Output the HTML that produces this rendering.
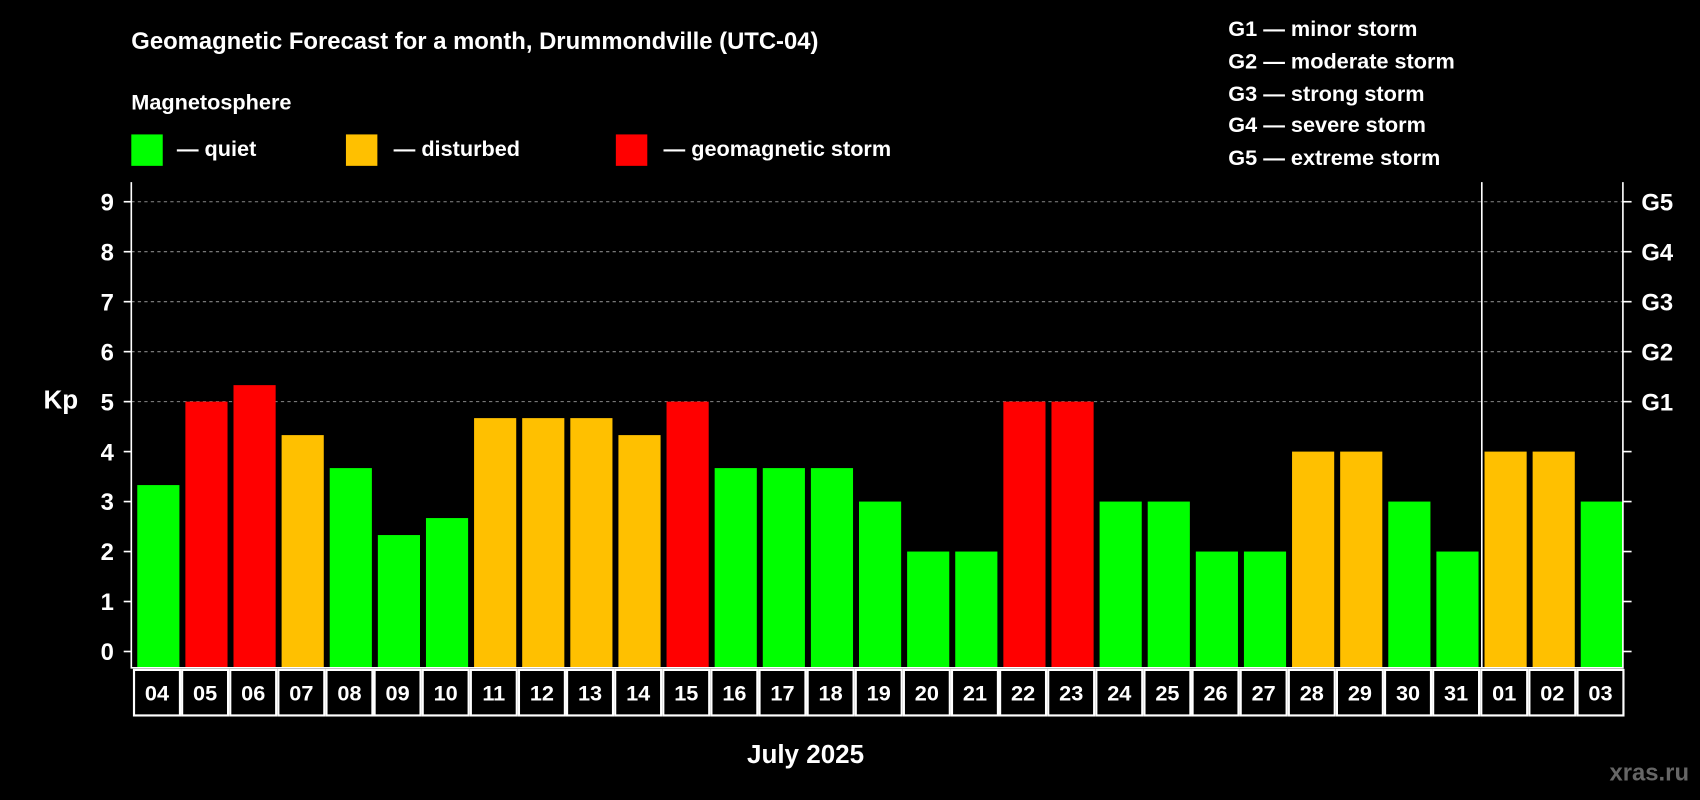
<!DOCTYPE html>
<html><head><meta charset="utf-8"><style>
html,body{margin:0;padding:0;background:#000;width:1700px;height:800px;overflow:hidden}
svg{display:block;font-family:"Liberation Sans",Arial,sans-serif;font-weight:bold}
</style></head><body>
<svg id="chart" width="1700" height="800" viewBox="0 0 1568 738" xmlns="http://www.w3.org/2000/svg">
<rect x="0" y="0" width="1568" height="738" fill="#000"/>
<text x="121" y="45" fill="#fff" font-size="22">Geomagnetic Forecast for a month, Drummondville (UTC-04)</text>
<text x="121" y="101" fill="#fff" font-size="20">Magnetosphere</text>
<g><rect x="121" y="124" width="29" height="29" fill="#00ff00"/><text x="163" y="144" fill="#fff" font-size="20">— quiet</text></g>
<g><rect x="319" y="124" width="29" height="29" fill="#ffc000"/><text x="363" y="144" fill="#fff" font-size="20">— disturbed</text></g>
<g><rect x="568" y="124" width="29" height="29" fill="#ff0000"/><text x="612" y="144" fill="#fff" font-size="20">— geomagnetic storm</text></g>
<g fill="#fff" font-size="20">
<text x="1133" y="33">G1 — minor storm</text>
<text x="1133" y="63">G2 — moderate storm</text>
<text x="1133" y="93">G3 — strong storm</text>
<text x="1133" y="122">G4 — severe storm</text>
<text x="1133" y="152">G5 — extreme storm</text>
</g>
<text x="40" y="377" fill="#fff" font-size="24">Kp</text>
<text x="743" y="704" fill="#fff" font-size="24" text-anchor="middle">July 2025</text>
<text x="1558" y="720" fill="#666" font-size="22" text-anchor="end">xras.ru</text>
<g id="grid"></g><g id="bars"></g><g id="axes"></g><g id="xlabels"></g>
</svg>
<script>
const days = ["04","05","06","07","08","09","10","11","12","13","14","15","16","17","18","19","20","21","22","23","24","25","26","27","28","29","30","31","01","02","03"];
const kpValues = [3.33,5,5.33,4.33,3.67,2.33,2.67,4.67,4.67,4.67,4.33,5,3.67,3.67,3.67,3,2,2,5,5,3,3,2,2,4,4,3,2,4,4,3];
const yTicks = [0,1,2,3,4,5,6,7,8,9];
const gLabels = ["","","","","","G1","G2","G3","G4","G5"];
const monthBreakIndex = 28;
const NS="http://www.w3.org/2000/svg";
const L=121,R=1497,T=168,B=616;
function y(v){return 601-v*46.1;}
const slot=(R-L)/days.length;
function x(i){return L+i*slot;}
function mk(tag,attrs,parent,text){const e=document.createElementNS(NS,tag);for(const k in attrs)e.setAttribute(k,attrs[k]);if(text!==undefined)e.textContent=text;parent.appendChild(e);return e;}
const grid=document.getElementById('grid'),bars=document.getElementById('bars'),axes=document.getElementById('axes'),xl=document.getElementById('xlabels');
yTicks.forEach((t,i)=>{
  if(t>=5){const g=mk('line',{x1:L,x2:R,y1:y(t),y2:y(t),stroke:'#888','stroke-dasharray':'3,3','stroke-width':1},grid);
  
  }
  const tk=mk('line',{x1:L-7,x2:L,y1:y(t),y2:y(t),stroke:'#fff','stroke-width':1.5},axes);
  
  
  const tr=mk('line',{x1:R,x2:R+8,y1:y(t),y2:y(t),stroke:'#fff','stroke-width':1.5},axes);
  
  
  const lb=mk('text',{x:105,y:y(t)+8,fill:'#fff','font-size':22,'text-anchor':'end'},axes,String(t));
  
  
  if(gLabels[i]){const gl=mk('text',{x:R+17,y:y(t)+8,fill:'#fff','font-size':22},axes,gLabels[i]);
  
  }
});
kpValues.forEach((v,i)=>{
  const c=v>=5?'#ff0000':(v>=4?'#ffc000':'#00ff00');
  const b=mk('rect',{x:x(i)+5.5,y:y(v),width:slot-5.5,height:B-y(v),fill:c},bars);
  
  
  const cell=mk('rect',{x:x(i)+2.5,y:618,width:slot-2,height:42,fill:'none',stroke:'#fff','stroke-width':2},xl);
  
  
  const t=mk('text',{x:x(i)+slot/2+1.5,y:646,fill:'#fff','font-size':20,'text-anchor':'middle'},xl,days[i]);
  
  
});
const frame=mk('path',{d:`M${L},${T} V${B} H${R} V${T}`,fill:'none',stroke:'#fff','stroke-width':1.5},axes);


const sep=mk('line',{x1:x(monthBreakIndex)+3,x2:x(monthBreakIndex)+3,y1:T,y2:B,stroke:'#fff','stroke-width':1.5},axes);


</script>
</body></html>
